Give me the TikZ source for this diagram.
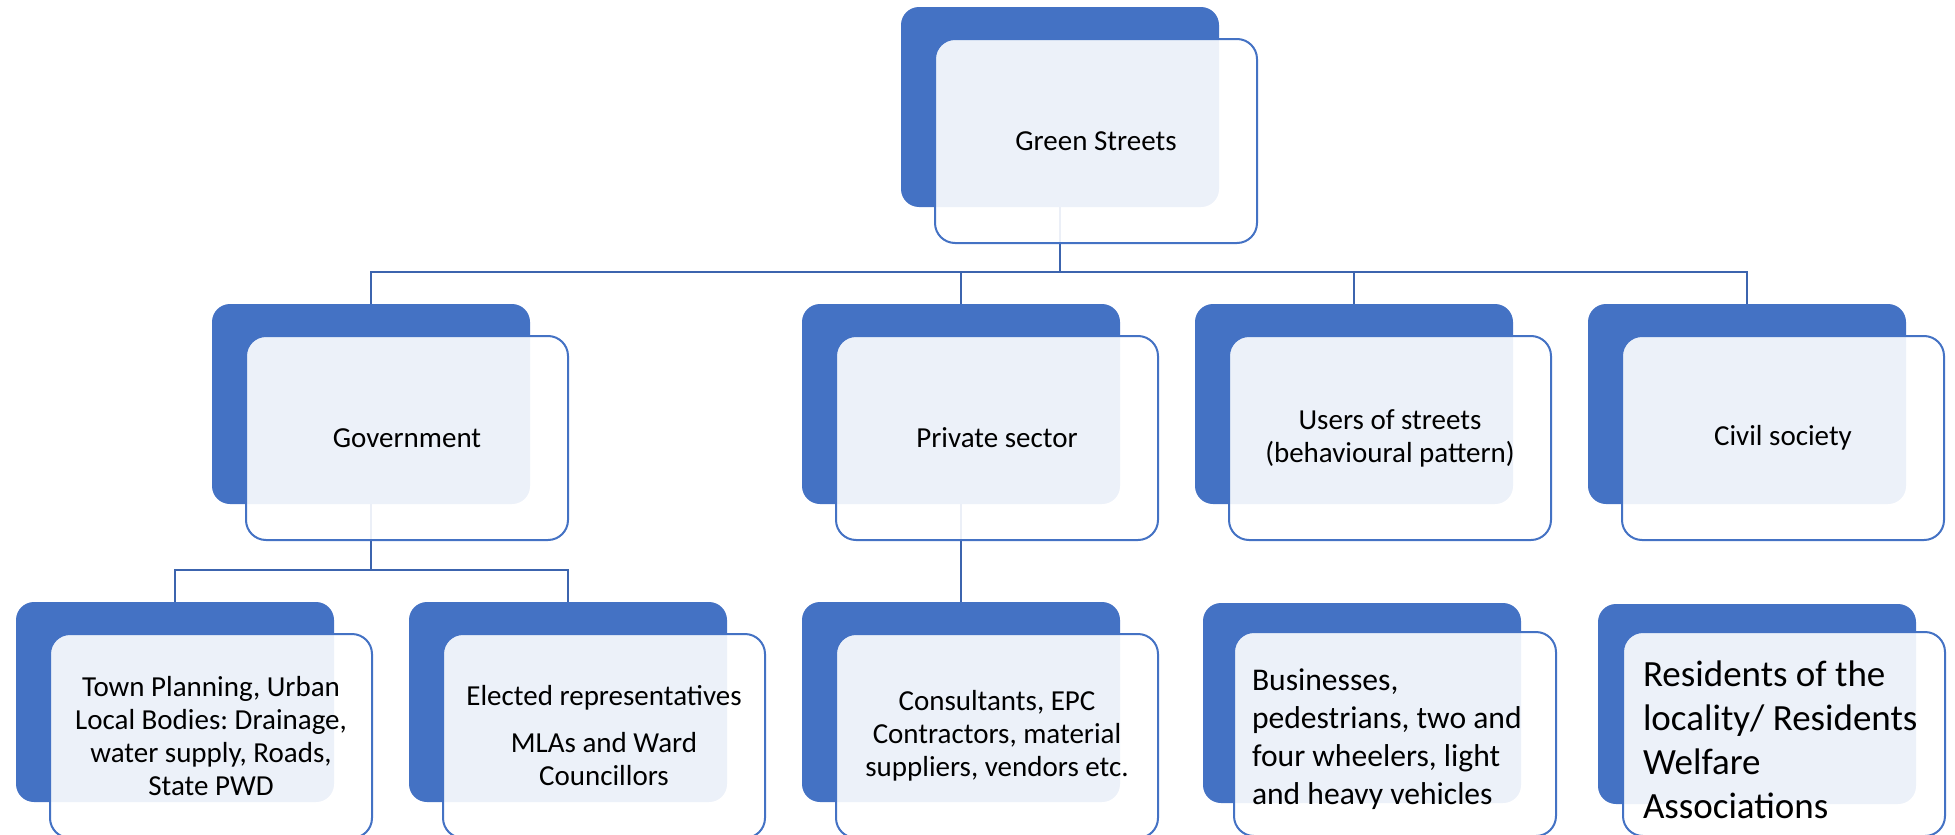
\documentclass[tikz,border=0pt]{standalone}
\usepackage{fontspec}
\setmainfont{Carlito}
\usetikzlibrary{positioning}
\definecolor{boxblue}{HTML}{4472C4}
\definecolor{linkblue}{HTML}{3C64AE}
\frenchspacing

\begin{document}
\begin{tikzpicture}[x=0.5pt,y=-0.5pt]
  \tikzstyle{back} = [rounded corners=9pt, fill=boxblue, inner sep=0pt, minimum width=159pt, minimum height=100pt]
  \tikzstyle{front} = [rounded corners=10pt, draw=boxblue, line width=1pt, fill=white, fill opacity=0.9, text opacity=1, minimum width=161pt, minimum height=102pt, align=center, font=\fontsize{14.5}{16.5}\selectfont]
  \tikzstyle{link} = [draw=linkblue, line width=1.4pt]
  \useasboundingbox (0,0) rectangle (1955,835);

  % back boxes
  \node[back](root) at (1060,107){};
  \node[back](gov) at (371,404){};
  \node[back](priv) at (961,404){};
  \node[back](users) at (1354,404){};
  \node[back](civil) at (1747,404){};
  \node[back](town) at (175,702){};
  \node[back](elect) at (568,702){};
  \node[back](cons) at (961,702){};
  \node[back](bus) at (1362,703){};
  \node[back](res) at (1757,704){};

  % connectors
  \coordinate (j0) at (1060,272);
  \coordinate (j1) at (371,570);
  \draw[link](root.south)--(j0);
  \foreach \n in {gov,priv,users,civil}
    \draw[link](j0)-|(\n.north);
  \draw[link](gov.south)--(j1);
  \foreach \n in {town,elect}
    \draw[link](j1)-|(\n.north);
  \draw[link](priv.south)--(cons.north);

  % front boxes
  \node[front](roott) at ([shift={(36,34)}]root){Green Streets};
  \node[front](govt) at ([shift={(36,34)}]gov){Government};
  \node[front](privt) at ([shift={(36,34)}]priv){Private sector};
  \node[front](userst) at ([shift={(36,34)}]users){Users of streets\\(behavioural pattern)};
  \node[front](civilt) at ([shift={(36,34)}]civil){Civil society};
  \node[front](townt) at ([shift={(36,34)}]town){Town Planning, Urban\\Local Bodies: Drainage,\\water supply, Roads,\\State PWD};
  \node[front](electt) at ([shift={(36,34)}]elect){Elected representatives\\[7pt]MLAs and Ward\\Councillors};
  \node[front](const) at ([shift={(36,34)}]cons){Consultants, EPC\\Contractors, material\\suppliers, vendors etc.};
  \node[front, align=flush left, inner xsep=9pt, text width=143pt, font=\fontsize{15.8}{19}\selectfont](bust) at ([shift={(33,31)}]bus){\rule{0pt}{16pt}Businesses,\\pedestrians, two and\\four wheelers, light\\and heavy vehicles};
  \node[front, align=flush left, inner xsep=10pt, text width=141pt, font=\fontsize{18.5}{22}\selectfont](rest) at ([shift={(27,30)}]res){\rule{0pt}{19pt}Residents of the\\locality/ Residents\\Welfare\\Associations};

\end{tikzpicture}
\end{document}
